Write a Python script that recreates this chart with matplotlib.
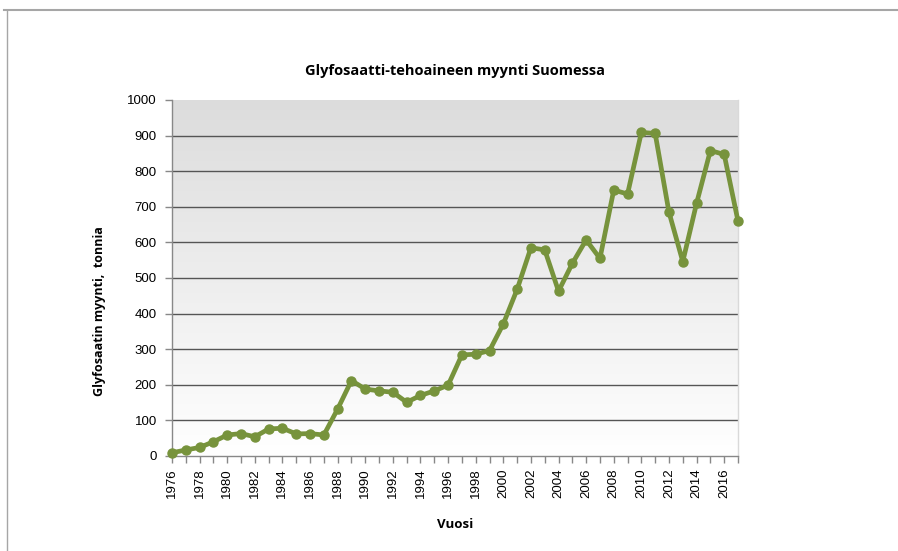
import matplotlib
matplotlib.use("Agg")
import matplotlib.pyplot as plt
import numpy as np
from matplotlib.lines import Line2D
from matplotlib.colors import LinearSegmentedColormap

years = list(range(1976, 2018))
values = [9, 17, 24, 40, 59, 63, 54, 76, 78, 62, 63, 59, 132, 212, 188, 183, 179, 151,
          170, 183, 199, 284, 286, 296, 371, 468, 585, 579, 463, 541, 607, 555, 747, 736,
          909, 906, 685, 546, 710, 858, 847, 660]
y_ticks = [0, 100, 200, 300, 400, 500, 600, 700, 800, 900, 1000]
x_label_years = list(range(1976, 2017, 2))

title = "Glyfosaatti-tehoaineen myynti Suomessa"
ylabel = "Glyfosaatin myynti,  tonnia"
xlabel = "Vuosi"

W, H = 898, 551
fig = plt.figure(figsize=(W / 100, H / 100), dpi=100)
fig.patch.set_facecolor("white")

ax = fig.add_axes([172 / W, 1 - 456 / H, (738 - 172) / W, (456 - 100) / H])
ax.set_xlim(1976, 2017)
ax.set_ylim(0, 1000)

# gradient background
grad = np.linspace(0, 1, 256).reshape(-1, 1)
cmap = LinearSegmentedColormap.from_list("g", ["#ffffff", "#dcdcdc"])
ax.imshow(grad, extent=[0, 1, 0, 1], transform=ax.transAxes, cmap=cmap,
          aspect="auto", origin="lower", zorder=0)

for yv in y_ticks[1:-1]:
    ax.axhline(yv, color="#555555", lw=1.0, zorder=1)

ax.plot(years, values, color="#77933C", lw=3.4, marker="o", markersize=6.5,
        markerfacecolor="#77933C", markeredgecolor="#77933C", clip_on=False, zorder=3)

ax.set_yticks(y_ticks)
ax.set_yticklabels([str(v) for v in y_ticks], fontsize=9.5, family="Liberation Sans")
ax.set_xticks(x_label_years)
ax.set_xticklabels([str(v) for v in x_label_years], rotation=90, fontsize=9.5,
                   family="Liberation Sans")
ax.set_xticks(years, minor=True)
ax.tick_params(axis="both", which="both", direction="out", color="#888888", length=5, width=1)
ax.tick_params(axis="y", pad=6)
ax.tick_params(axis="x", pad=4)

ax.spines["top"].set_visible(False)
ax.spines["left"].set_color("#888888")
ax.spines["bottom"].set_color("#888888")
ax.spines["right"].set_color("#d9d9d9")
for s in ax.spines.values():
    s.set_linewidth(1)

fig.text(455 / W, 1 - 71 / H, title, ha="center", va="center", fontsize=10.5,
         fontweight="bold", family="Open Sans")
fig.text(99 / W, 1 - 311 / H, ylabel, ha="center", va="center", rotation=90,
         fontsize=9, fontweight="bold", family="Open Sans")
fig.text(455 / W, 1 - 525 / H, xlabel, ha="center", va="center", fontsize=9.5,
         fontweight="bold", family="Open Sans")

# frame lines
fig.add_artist(Line2D([4 / W, 1], [1 - 9.5 / H] * 2, color="#a6a6a6", lw=1.5,
                      transform=fig.transFigure))
fig.add_artist(Line2D([7 / W, 7 / W], [0, 1 - 9.5 / H], color="#a6a6a6", lw=1,
                      transform=fig.transFigure))

fig.savefig("out.png", dpi=100)
